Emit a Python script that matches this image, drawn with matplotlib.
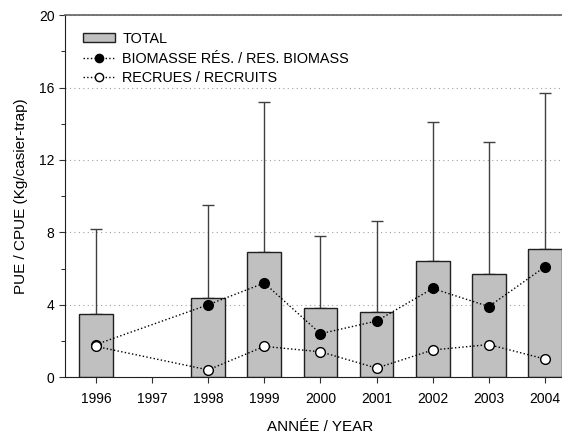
import matplotlib
matplotlib.use('Agg')
import matplotlib.pyplot as plt
import numpy as np

plt.rcParams['font.family'] = ['Liberation Sans', 'DejaVu Sans']

years = [1996, 1997, 1998, 1999, 2000, 2001, 2002, 2003, 2004]
bar_years = [1996, 1998, 1999, 2000, 2001, 2002, 2003, 2004]
total = [3.5, 4.4, 6.9, 3.8, 3.6, 6.4, 5.7, 7.1]
total_upper = [8.2, 9.5, 15.2, 7.8, 8.6, 14.1, 13.0, 15.7]
biomass = [1.8, 4.0, 5.2, 2.4, 3.1, 4.9, 3.9, 6.1]
recruits = [1.7, 0.4, 1.7, 1.4, 0.5, 1.5, 1.8, 1.0]

fig = plt.figure(figsize=(5.62, 4.33), dpi=100)
ax = fig.add_axes([0.1157, 0.129, 0.909, 0.836])

err = np.array(total_upper) - np.array(total)
bars = ax.bar(bar_years, total, width=0.6, color='#c0c0c0', edgecolor='#202020',
              linewidth=1.0, label='TOTAL', zorder=2)
ax.errorbar(bar_years, total, yerr=[np.zeros(len(err)), err], fmt='none',
            ecolor='#404040', elinewidth=1.0, capsize=4, capthick=1.0, zorder=1)
l1, = ax.plot(bar_years, biomass, linestyle=':', color='black', linewidth=1.0,
              marker='o', markersize=7, markerfacecolor='black',
              markeredgecolor='black', label='BIOMASSE RÉS. / RES. BIOMASS', zorder=3)
l2, = ax.plot(bar_years, recruits, linestyle=':', color='black', linewidth=1.0,
              marker='o', markersize=7, markerfacecolor='white',
              markeredgecolor='black', label='RECRUES / RECRUITS', zorder=3)

ax.set_xlim(1995.45, 2004.55)
ax.set_ylim(0, 20)
ax.set_xticks(years)
ax.set_xticklabels([str(y) for y in years])
ax.set_yticks([0, 4, 8, 12, 16, 20])
ax.set_yticks([2, 6, 10, 14, 18], minor=True)
ax.tick_params(axis='both', labelsize=10, direction='out', length=4, color='#303030')
ax.tick_params(axis='x', pad=6.5)
ax.tick_params(axis='y', which='minor', length=3)
ax.tick_params(top=False, right=False)

ax.grid(axis='y', linestyle=(0, (1, 3)), color='#a0a0a0', linewidth=0.8, zorder=0)
ax.set_axisbelow(True)

for s in ['left', 'bottom']:
    ax.spines[s].set_color('#202020')
ax.spines['top'].set_color('#606060')
ax.spines['top'].set_linewidth(1.2)
ax.spines['right'].set_visible(False)

ax.set_xlabel('ANNÉE / YEAR', fontsize=11, labelpad=10)
ax.set_ylabel('PUE / CPUE (Kg/casier-trap)', fontsize=11, labelpad=8)

ax.legend([bars, l1, l2], ['TOTAL', 'BIOMASSE RÉS. / RES. BIOMASS', 'RECRUES / RECRUITS'],
          loc='upper left', frameon=False, fontsize=10.4, handlelength=2.2,
          handleheight=0.6, handletextpad=0.5, labelspacing=0.4,
          borderaxespad=0.5, bbox_to_anchor=(0.01, 0.99), markerscale=0.85)

fig.savefig('out.png', dpi=100)
